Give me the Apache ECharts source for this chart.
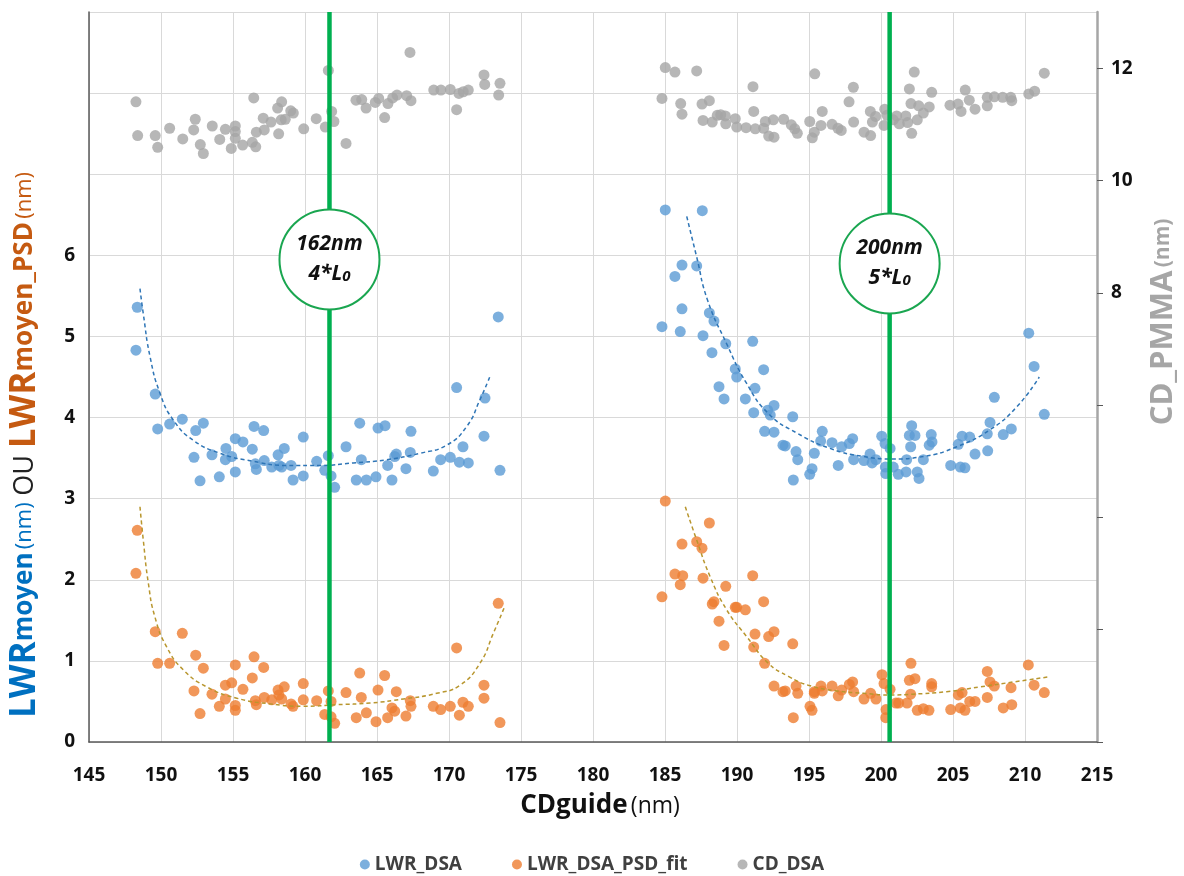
<!DOCTYPE html>
<html>
<head>
<meta charset="utf-8">
<script src="https://cdn.jsdelivr.net/npm/echarts@6/dist/echarts.min.js"></script>
<style>
html,body{margin:0;padding:0;background:#fff;}
#chart{width:1184px;height:876px;}
</style>
</head>
<body>
<div id="chart"></div>
<script>
// ---- data ----
const xTicks = [145, 215, 5];           // min, max, step of CDguide axis
const leftAxisLabels = [0, 1, 2, 3, 4, 5, 6];
const rightAxisLabels = [8, 10, 12];

const lwrDsa = [
 [148.35,5.36],[148.26,4.83],[149.60,4.29],[149.77,3.86],[150.60,3.92],[151.48,3.98],[152.41,3.84],[152.94,3.93],
 [152.29,3.51],[152.71,3.22],[153.54,3.54],[154.05,3.27],[154.47,3.48],[154.51,3.62],[154.91,3.52],[155.16,3.74],
 [155.16,3.33],[155.69,3.70],[156.34,3.61],[156.46,3.89],[156.55,3.43],[156.62,3.36],[157.13,3.84],[157.17,3.47],
 [157.69,3.39],[158.13,3.54],[158.19,3.41],[158.38,3.39],[158.56,3.62],[159.03,3.41],[159.17,3.23],[159.88,3.76],
 [159.88,3.28],[160.81,3.46],[161.37,3.35],[161.62,3.53],[161.81,3.28],[162.06,3.14],[162.85,3.64],[163.56,3.23],
 [163.80,3.93],[163.91,3.48],[164.26,3.23],[164.93,3.27],[165.07,3.87],[165.56,3.90],[165.74,3.41],[166.04,3.23],
 [166.23,3.52],[166.34,3.55],[167.01,3.37],[167.31,3.57],[167.36,3.83],[168.91,3.34],[169.42,3.48],[170.09,3.51],
 [170.53,4.37],[170.72,3.45],[170.97,3.64],[171.34,3.44],[172.43,3.77],[172.50,4.24],[173.42,5.24],[173.54,3.35],
 [185.02,6.56],[187.59,6.55],[186.18,5.88],[185.69,5.74],[187.20,5.87],[186.18,5.34],[184.79,5.12],[186.06,5.06],
 [188.08,5.29],[188.40,5.19],[187.64,5.01],[188.26,4.80],[189.22,4.91],[191.09,4.94],[189.88,4.60],[189.98,4.50],
 [191.85,4.59],[188.75,4.38],[189.10,4.23],[190.58,4.23],[191.25,4.36],[191.16,4.06],[192.57,4.15],[192.13,4.09],
 [192.31,4.03],[193.87,4.01],[191.92,3.83],[192.57,3.82],[193.19,3.66],[193.35,3.65],[194.10,3.58],[194.22,3.48],
 [193.91,3.23],[195.37,3.56],[195.21,3.37],[195.05,3.30],[195.92,3.83],[195.81,3.71],[196.60,3.69],[197.03,3.41],
 [197.27,3.64],[197.80,3.68],[198.03,3.74],[198.10,3.48],[198.82,3.47],[199.24,3.55],[199.38,3.44],[199.65,3.48],
 [200.05,3.77],[200.28,3.68],[200.63,3.62],[200.30,3.39],[200.33,3.31],[200.85,3.39],[201.20,3.30],[201.74,3.33],
 [201.78,3.48],[202.06,3.64],[202.13,3.90],[201.97,3.78],[202.36,3.78],[202.52,3.33],[202.64,3.25],[202.94,3.48],
 [203.35,3.66],[203.49,3.79],[203.54,3.70],[204.84,3.41],[205.37,3.67],[205.51,3.39],[205.63,3.77],[205.83,3.38],
 [206.16,3.76],[206.53,3.55],[207.41,3.59],[207.38,3.80],[207.57,3.94],[207.87,4.25],[208.49,3.79],[209.05,3.86],
 [210.26,5.04],[210.63,4.63],[211.34,4.04]
];

const lwrPsd = [
 [148.35,2.61],[148.26,2.08],[149.60,1.36],[149.77,0.97],[150.60,0.97],[151.48,1.34],[152.41,1.07],[152.94,0.91],
 [152.29,0.63],[152.71,0.35],[153.54,0.59],[154.05,0.44],[154.47,0.53],[154.47,0.70],[154.91,0.73],[155.16,0.95],
 [155.16,0.45],[155.16,0.39],[155.69,0.65],[156.34,0.79],[156.46,1.05],[156.55,0.51],[156.62,0.46],[157.13,0.92],
 [157.17,0.55],[157.69,0.52],[158.13,0.64],[158.19,0.58],[158.38,0.53],[158.56,0.68],[159.03,0.47],[159.17,0.44],
 [159.88,0.72],[159.88,0.52],[160.81,0.51],[161.37,0.34],[161.62,0.63],[161.81,0.50],[161.81,0.31],[162.06,0.23],
 [162.85,0.61],[163.56,0.30],[163.80,0.85],[163.91,0.55],[164.26,0.36],[164.93,0.25],[165.07,0.64],[165.53,0.82],
 [165.74,0.30],[166.04,0.42],[166.23,0.38],[166.34,0.62],[167.01,0.32],[167.31,0.51],[167.36,0.44],[168.91,0.44],
 [169.42,0.40],[170.09,0.44],[170.53,1.16],[170.72,0.33],[170.97,0.49],[171.34,0.44],[172.43,0.70],[172.43,0.54],
 [173.42,1.71],[173.54,0.24],
 [185.02,2.97],[188.08,2.70],[186.18,2.44],[187.20,2.47],[187.57,2.39],[185.69,2.07],[186.23,2.05],[186.06,1.94],
 [187.64,2.02],[191.09,2.05],[189.22,1.92],[184.79,1.79],[188.28,1.70],[188.40,1.73],[189.88,1.66],[189.98,1.66],
 [190.58,1.63],[191.85,1.73],[188.75,1.49],[189.10,1.19],[191.25,1.33],[191.16,1.17],[192.20,1.30],[192.57,1.36],
 [193.87,1.21],[191.92,0.97],[192.57,0.69],[193.19,0.62],[193.35,0.63],[194.10,0.69],[194.22,0.60],[193.91,0.30],
 [195.37,0.60],[195.37,0.62],[195.07,0.44],[195.21,0.39],[195.83,0.69],[195.92,0.63],[196.60,0.69],[197.03,0.57],
 [197.27,0.64],[197.80,0.71],[198.03,0.74],[198.10,0.62],[198.82,0.53],[199.28,0.60],[199.65,0.53],[200.07,0.83],
 [200.21,0.72],[200.63,0.65],[200.35,0.40],[200.33,0.30],[201.04,0.48],[201.23,0.48],[201.81,0.48],[202.08,0.97],
 [201.97,0.76],[202.36,0.78],[202.06,0.59],[202.52,0.39],[202.94,0.41],[203.33,0.39],[203.52,0.72],[203.52,0.68],
 [204.84,0.40],[205.37,0.58],[205.63,0.61],[205.51,0.42],[205.83,0.39],[206.16,0.50],[206.53,0.50],[207.38,0.55],
 [207.38,0.87],[207.57,0.74],[207.87,0.69],[208.49,0.42],[209.03,0.67],[209.08,0.46],[210.23,0.95],[210.63,0.70],
 [211.34,0.61]
];

const cdDsa = [
 [148.26,11.40],[148.38,10.80],[149.60,10.80],[149.77,10.59],[150.60,10.93],[151.51,10.74],[152.27,10.90],[152.38,11.09],
 [152.73,10.64],[152.94,10.48],[153.56,10.97],[154.08,10.73],[154.47,10.91],[154.88,10.57],[155.16,10.97],[155.16,10.87],
 [155.16,10.75],[155.67,10.63],[156.34,10.68],[156.44,11.47],[156.58,10.60],[156.62,10.86],[157.10,11.11],[157.17,10.90],
 [157.64,11.04],[158.10,11.29],[158.17,10.83],[158.38,11.40],[158.35,11.08],[158.63,11.09],[159.01,11.24],[159.19,11.20],
 [159.91,10.92],[160.78,11.10],[161.41,10.95],[161.62,11.96],[161.85,11.23],[162.01,11.05],[162.85,10.66],[163.54,11.43],
 [163.94,11.44],[164.24,11.29],[164.88,11.39],[165.12,11.46],[165.53,11.12],[165.76,11.37],[166.09,11.47],[166.39,11.52],
 [167.06,11.51],[167.29,12.28],[167.36,11.42],[168.94,11.61],[169.44,11.61],[170.09,11.62],[170.53,11.26],[170.69,11.55],
 [170.99,11.58],[171.34,11.61],[172.43,11.88],[172.48,11.71],[173.45,11.52],[173.54,11.73],
 [185.02,12.01],[185.69,11.93],[187.20,11.95],[184.79,11.46],[186.09,11.37],[186.18,11.18],[187.57,11.36],[188.08,11.42],
 [187.64,11.07],[188.28,11.04],[188.63,11.16],[188.87,11.17],[189.19,11.15],[189.22,11.01],[189.88,11.10],[189.98,10.95],
 [190.63,10.94],[191.11,11.67],[191.16,11.23],[191.27,10.92],[191.85,10.93],[191.97,11.05],[192.20,10.79],[192.52,11.08],
 [192.57,10.77],[193.24,11.09],[193.77,10.99],[194.01,10.92],[194.19,10.84],[195.05,11.05],[195.23,10.76],[195.37,10.86],
 [195.40,11.90],[195.83,10.98],[195.92,11.23],[196.60,11.00],[197.01,10.93],[197.24,10.89],[197.78,11.40],[198.10,11.04],
 [198.08,11.66],[198.82,10.86],[199.26,11.23],[199.28,10.80],[199.40,11.04],[199.63,11.14],[200.21,10.98],[200.26,11.27],
 [200.42,11.16],[200.85,11.08],[201.09,11.15],[201.27,11.01],[201.72,11.15],[201.85,11.03],[201.97,11.63],[202.08,11.37],
 [202.13,10.84],[202.31,11.93],[202.52,11.08],[202.62,11.33],[202.94,11.20],[203.35,11.31],[203.52,11.57],[204.79,11.34],
 [205.35,11.36],[205.56,11.23],[205.85,11.61],[206.13,11.43],[206.53,11.27],[207.38,11.33],[207.38,11.48],[207.87,11.49],
 [208.45,11.48],[209.01,11.48],[209.08,11.42],[210.26,11.54],[210.67,11.59],[211.34,11.91]
];

// trend (fit) curves, read as points from the picture
const fitLwrLeft = [[148.54,5.59],[148.77,5.28],[149.24,4.75],[149.93,4.30],[150.85,3.97],[152.24,3.72],[154.10,3.56],
 [156.41,3.46],[158.73,3.41],[161.04,3.41],[163.35,3.44],[165.67,3.48],[167.99,3.56],[169.84,3.66],[171.23,3.89],[172.15,4.22],[172.85,4.51]];
const fitLwrRight = [[186.51,6.48],[187.20,5.98],[187.95,5.45],[189.28,4.91],[190.67,4.42],[192.18,4.05],[194.15,3.81],
 [196.46,3.62],[198.77,3.52],[200.86,3.49],[202.94,3.52],[205.26,3.64],[207.57,3.85],[209.42,4.13],[210.99,4.50]];
const fitPsdLeft = [[148.54,2.90],[148.77,2.49],[149.12,1.96],[149.58,1.54],[150.40,1.17],[151.55,0.89],[153.17,0.68],
 [155.26,0.54],[157.57,0.47],[159.88,0.44],[162.20,0.46],[164.51,0.48],[166.83,0.53],[169.15,0.60],[170.76,0.70],[172.15,0.97],[173.08,1.34],[173.89,1.68]];
const fitPsdRight = [[186.41,2.90],[187.20,2.49],[188.13,2.04],[189.28,1.63],[190.67,1.30],[192.18,0.97],[193.57,0.81],
 [194.95,0.70],[196.92,0.63],[198.77,0.60],[200.63,0.58],[202.24,0.59],[204.56,0.62],[206.88,0.68],[209.19,0.74],[211.55,0.80]];

// annotations: guide lines and circled labels
const guideX = [161.7, 200.6];
const guideLabels = [['162nm', '4*L', '0'], ['200nm', '5*L', '0']];
const guideLabelY = [5.95, 5.9];

// ---- chart ----
const FONT = '"Open Sans", "Noto Sans", sans-serif';
const chart = echarts.init(document.getElementById('chart'));

const guideLineSeries = guideX.map((gx, i) => ({
  name: 'guide' + i, type: 'line', yAxisIndex: 0, z: 5, silent: true,
  symbol: 'none', data: [[gx, 0], [gx, 9]],
  lineStyle: { color: '#00b050', width: 4.5 }
}));

const circleSeries = {
  name: 'circles', type: 'scatter', yAxisIndex: 0, z: 6, silent: true,
  symbol: 'circle', symbolSize: 100,
  itemStyle: { color: '#ffffff', borderColor: '#1aa650', borderWidth: 2, opacity: 1 },
  data: guideX.map((gx, i) => ({ value: [gx, guideLabelY[i]], lbl: guideLabels[i] })),
  label: {
    show: true, position: 'inside',
    formatter: p => '{a|' + p.data.lbl[0] + '}\n{a|' + p.data.lbl[1] + '}{s|' + p.data.lbl[2] + '}',
    rich: {
      a: { fontFamily: FONT, fontWeight: 'bold', fontStyle: 'italic', fontSize: 21, color: '#111', lineHeight: 30, align: 'center' },
      s: { fontFamily: FONT, fontWeight: 'bold', fontStyle: 'italic', fontSize: 15, color: '#111', lineHeight: 30, verticalAlign: 'middle', padding: [5, 0, 0, 0] }
    }
  },
  emphasis: { disabled: true }
};

const option = {
  animation: false,
  backgroundColor: '#ffffff',
  grid: { left: 89, right: 87, top: 12, bottom: 134, containLabel: false },
  legend: {
    data: ['LWR_DSA', 'LWR_DSA_PSD_fit', 'CD_DSA'],
    top: 850, left: 'center',
    icon: 'circle', itemWidth: 10, itemHeight: 10, itemGap: 50,
    textStyle: { fontFamily: FONT, fontWeight: 'bold', fontSize: 19, color: '#404040' }
  },
  xAxis: {
    type: 'value', min: xTicks[0], max: xTicks[1], interval: xTicks[2],
    axisLine: { show: true, lineStyle: { color: '#595959', width: 1.5 } },
    axisTick: { show: false },
    axisLabel: { fontFamily: FONT, fontWeight: 'bold', fontSize: 19, color: '#111', margin: 24 },
    splitLine: { show: true, lineStyle: { color: '#d9d9d9', width: 1 } }
  },
  yAxis: [
    {
      type: 'value', min: 0, max: 9, interval: 1, position: 'left',
      axisLine: { show: true, lineStyle: { color: '#595959', width: 1.5 } },
      axisTick: { show: false },
      axisLabel: {
        fontFamily: FONT, fontWeight: 'bold', fontSize: 19, color: '#111', margin: 14,
        formatter: v => leftAxisLabels.indexOf(v) >= 0 ? String(v) : ''
      },
      splitLine: { show: true, lineStyle: { color: '#d9d9d9', width: 1 } }
    },
    {
      type: 'value', min: 0, max: 13, interval: 2, position: 'right',
      axisLine: { show: true, lineStyle: { color: '#a6a6a6', width: 2.5 } },
      axisTick: { show: true, inside: false, length: 6, lineStyle: { color: '#595959' }, customValues: [0, 2, 4, 6, 8, 10, 12] },
      axisLabel: {
        fontFamily: FONT, fontWeight: 'bold', fontSize: 19, color: '#111', margin: 14,
        customValues: rightAxisLabels,
        formatter: v => rightAxisLabels.indexOf(v) >= 0 ? String(v) : ''
      },
      splitLine: { show: false }
    }
  ],
  graphic: [
    {
      type: 'text', x: 25, y: 445, rotation: Math.PI / 2, silent: true,
      style: {
        text: '{b|LWR}{bs|moyen} {bn|(nm)}  {k|OU}  {o|LWR}{os|moyen_PSD} {on|(nm)}',
        align: 'center', verticalAlign: 'middle',
        rich: {
          b: { fontFamily: FONT, fontWeight: 'bold', fontSize: 35, fill: '#0070c0' },
          bs: { fontFamily: FONT, fontWeight: 'bold', fontSize: 26, fill: '#0070c0' },
          bn: { fontFamily: FONT, fontSize: 22, fill: '#0070c0' },
          k: { fontFamily: FONT, fontSize: 27, fill: '#222' },
          o: { fontFamily: FONT, fontWeight: 'bold', fontSize: 35, fill: '#c55a11' },
          os: { fontFamily: FONT, fontWeight: 'bold', fontSize: 26, fill: '#c55a11' },
          on: { fontFamily: FONT, fontSize: 22, fill: '#c55a11' }
        }
      }
    },
    {
      type: 'text', x: 1163, y: 322, rotation: Math.PI / 2, silent: true,
      style: {
        text: '{a|CD_PMMA} {b|(nm)}',
        align: 'center', verticalAlign: 'middle',
        rich: {
          a: { fontFamily: FONT, fontWeight: 'bold', fontSize: 31, fill: '#a6a6a6' },
          b: { fontFamily: FONT, fontWeight: 'bold', fontSize: 21, fill: '#a6a6a6' }
        }
      }
    },
    {
      type: 'text', x: 600, y: 806, silent: true,
      style: {
        text: '{a|CDguide} {b|(nm)}',
        align: 'center', verticalAlign: 'middle',
        rich: {
          a: { fontFamily: FONT, fontWeight: 'bold', fontSize: 26, fill: '#111' },
          b: { fontFamily: FONT, fontSize: 23, fill: '#111' }
        }
      }
    }
  ],
  series: [
    {
      name: 'CD_DSA', type: 'scatter', yAxisIndex: 1, z: 2, symbolSize: 11,
      itemStyle: { color: '#a5a5a5' }, data: cdDsa
    },
    {
      name: 'LWR_DSA', type: 'scatter', yAxisIndex: 0, z: 2, symbolSize: 11,
      itemStyle: { color: '#5b9bd5' }, data: lwrDsa
    },
    {
      name: 'LWR_DSA_PSD_fit', type: 'scatter', yAxisIndex: 0, z: 2, symbolSize: 11,
      itemStyle: { color: '#ed7d31' }, data: lwrPsd
    },
    { name: 'fitLwrL', type: 'line', yAxisIndex: 0, z: 3, symbol: 'none', smooth: true, silent: true,
      lineStyle: { color: '#2e75b6', width: 1.5, type: [4, 3] }, data: fitLwrLeft },
    { name: 'fitLwrR', type: 'line', yAxisIndex: 0, z: 3, symbol: 'none', smooth: true, silent: true,
      lineStyle: { color: '#2e75b6', width: 1.5, type: [4, 3] }, data: fitLwrRight },
    { name: 'fitPsdL', type: 'line', yAxisIndex: 0, z: 3, symbol: 'none', smooth: true, silent: true,
      lineStyle: { color: '#b8962e', width: 1.5, type: [4, 3] }, data: fitPsdLeft },
    { name: 'fitPsdR', type: 'line', yAxisIndex: 0, z: 3, symbol: 'none', smooth: true, silent: true,
      lineStyle: { color: '#b8962e', width: 1.5, type: [4, 3] }, data: fitPsdRight },
    ...guideLineSeries,
    circleSeries
  ]
};
chart.setOption(option);
</script>
</body>
</html>
